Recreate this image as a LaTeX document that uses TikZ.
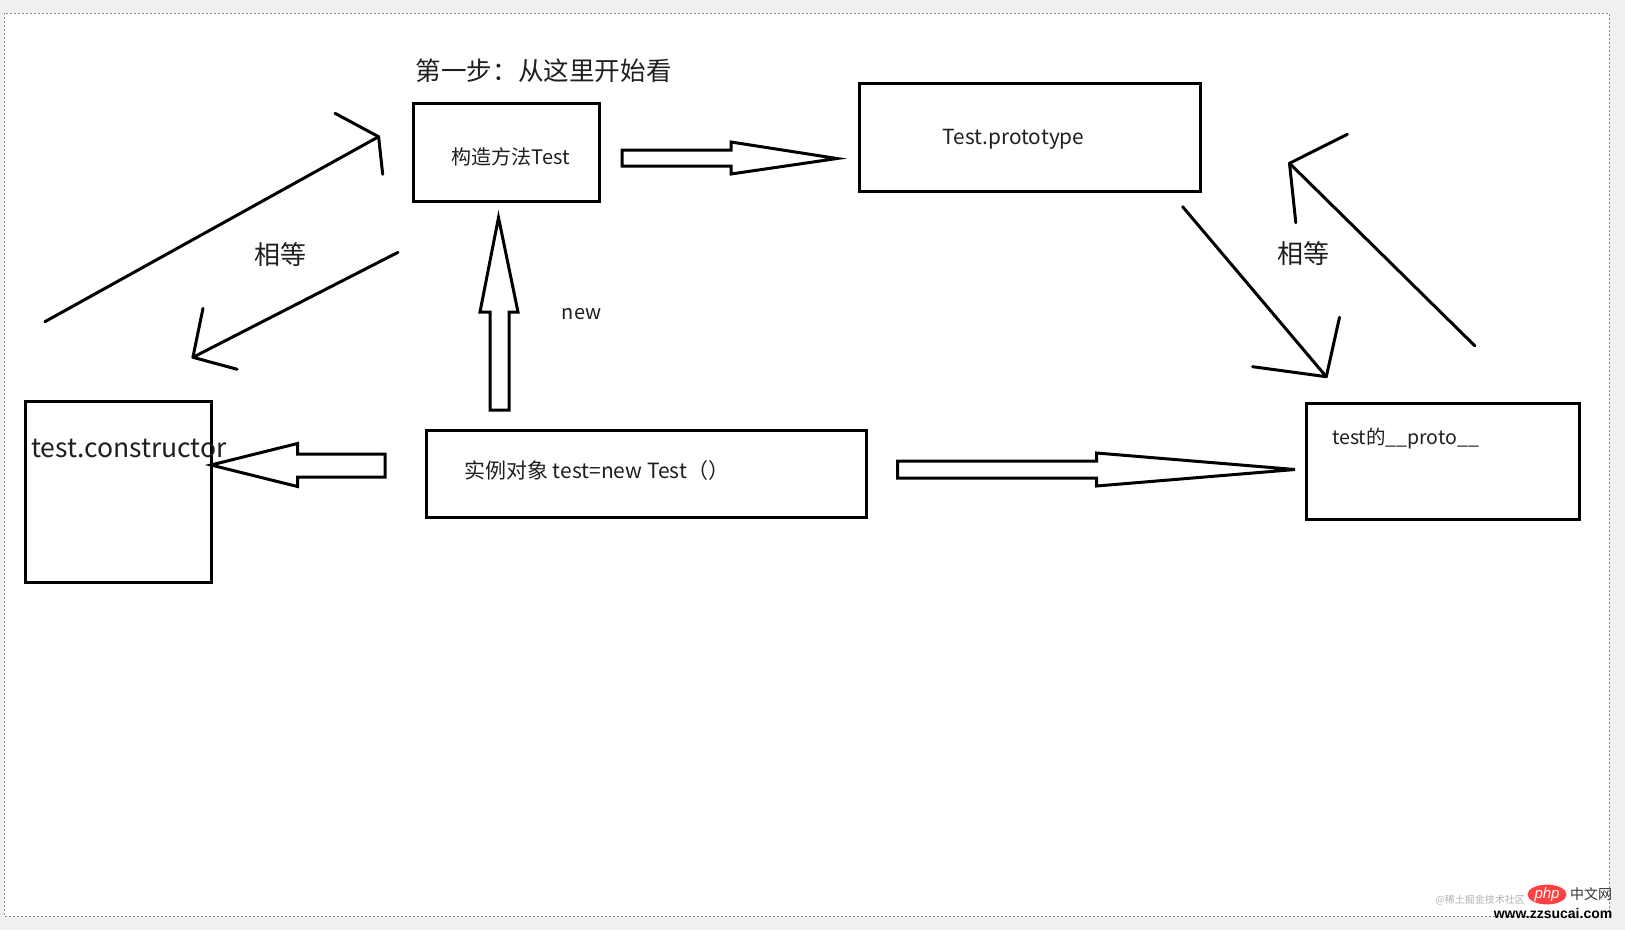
\documentclass[tikz,border=0pt]{standalone}
\usepackage{fontspec}
\usetikzlibrary{shapes.geometric}
\setmainfont{Noto Sans CJK SC}
\newfontfamily\wmfont{Liberation Sans}
\begin{document}
\begin{tikzpicture}[x=1pt,y=-1pt,
  box/.style={draw=black,line width=3pt,inner sep=0pt,outer sep=0pt},
  lbl/.style={inner sep=0pt,text=black!88},
  blk/.style={draw=black,line width=3pt,fill=white,line join=miter},
  hand/.style={draw=black,line width=3pt,line cap=round,line join=round}]
\useasboundingbox (0,0) rectangle (1625,930);
\fill[black!6] (0,0) rectangle (1625,930);
\fill[white] (4,13) rectangle (1609,916);
\draw[black!45,line width=0.8pt,dash pattern=on 2pt off 2pt] (4,13) rectangle (1609,916);

% boxes
\node[box,minimum width=185.5pt,minimum height=97.5pt] (ctor) at (506.3,152.3) {};
\node[box,minimum width=341pt,minimum height=108pt] (proto) at (1029.5,137) {};
\node[box,minimum width=186.4pt,minimum height=181.5pt] (tc) at (118.2,491.8) {};
\node[box,minimum width=440.4pt,minimum height=87pt] (inst) at (646.2,473.5) {};
\node[box,minimum width=273.5pt,minimum height=116pt] (tp) at (1443,461.3) {};

% texts
\node[lbl,font=\fontsize{25.6}{29}\selectfont,anchor=west] (title) at (415.5,71) {第一步：从这里开始看};
\node[lbl,font=\fontsize{20}{24}\selectfont] (ctortxt) at (511,156.5) {构造方法Test};
\node[lbl,font=\fontsize{20.8}{24}\selectfont] (prototxt) at (1013.6,139) {Test.prototype};
\node[lbl,font=\fontsize{26.5}{30}\selectfont,anchor=west] (tctxt) at (31,448) {test.constructor};
\node[lbl,font=\fontsize{21}{25}\selectfont,anchor=west] (insttxt) at (464,470.5) {实例对象 test=new Test（）};
\node[lbl,font=\fontsize{19.5}{23}\selectfont,anchor=west] (tptxt) at (1332,438.5) {test的\_\_proto\_\_};
\node[lbl,font=\fontsize{20}{24}\selectfont] (newtxt) at (581.6,314) {new};
\node[lbl,font=\fontsize{26}{30}\selectfont] (eq1) at (280.6,255) {相等};
\node[lbl,font=\fontsize{26}{30}\selectfont] (eq2) at (1303.7,253.3) {相等};

% block arrows
\draw[blk] (622,150) -- (731,150) -- (731,142) -- (837,158.5) -- (731,174) -- (731,166) -- (622,166) -- cycle;
\draw[blk] (490,410) -- (490,312) -- (480,312) -- (498.5,217.6) -- (518,312) -- (509,312) -- (509,410) -- cycle;
\draw[blk] (385,454) -- (297.5,454) -- (297.5,443.5) -- (211,465) -- (297.5,486.5) -- (297.5,477) -- (385,477) -- cycle;
\draw[blk] (897.5,461) -- (1096.5,461) -- (1096.5,453) -- (1295,469.5) -- (1096.5,486) -- (1096.5,478) -- (897.5,478) -- cycle;

% hand-drawn arrows
\coordinate (a1s) at (44.9,321.7);
\coordinate (a1t) at (378.6,136.7);
\coordinate (a1h1) at (335,113.3);
\coordinate (a1h2) at (382.7,174.3);
\draw[hand] (a1s) -- (a1t);
\draw[hand] (a1h1) -- (a1t) -- (a1h2);

\coordinate (a2s) at (398,252.3);
\coordinate (a2t) at (192.9,357.3);
\coordinate (a2h1) at (203,308.3);
\coordinate (a2h2) at (237.2,369.3);
\draw[hand] (a2s) -- (a2t);
\draw[hand] (a2h1) -- (a2t) -- (a2h2);

\coordinate (a3s) at (1182.6,206.7);
\coordinate (a3t) at (1326.3,376.7);
\coordinate (a3h1) at (1339.5,317.3);
\coordinate (a3h2) at (1252.6,366.7);
\draw[hand] (a3s) -- (a3t);
\draw[hand] (a3h1) -- (a3t) -- (a3h2);

\coordinate (a4s) at (1474.7,345.7);
\coordinate (a4t) at (1289.5,163.3);
\coordinate (a4h1) at (1347.4,134.3);
\coordinate (a4h2) at (1295.8,222.7);
\draw[hand] (a4s) -- (a4t);
\draw[hand] (a4h1) -- (a4t) -- (a4h2);

% watermark
\node[lbl,text=black!30,font=\fontsize{10}{11}\selectfont,anchor=east] (wm0) at (1525,900) {@稀土掘金技术社区};
\node[ellipse,fill=red!75!white,minimum width=39pt,minimum height=17pt,inner sep=0pt,text=white,font=\wmfont\itshape\fontsize{15}{16}\selectfont] (wm1) at (1547,894.5) {php};
\node[lbl,text=black!80,font=\fontsize{14}{15}\selectfont,anchor=west] (wm2) at (1570,894.5) {中文网};
\node[lbl,text=black,font=\wmfont\bfseries\fontsize{14}{15}\selectfont] (wm3) at (1553,913) {www.zzsucai.com};
\end{tikzpicture}
\end{document}
